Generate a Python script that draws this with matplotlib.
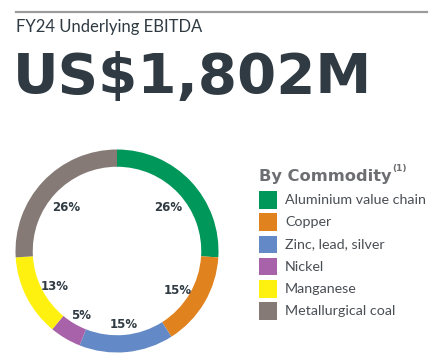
import matplotlib.pyplot as plt
import numpy as np
from matplotlib.lines import Line2D

# data
commodities = ["Aluminium value chain", "Copper", "Zinc, lead, silver",
               "Nickel", "Manganese", "Metallurgical coal"]
shares = [26, 15, 15, 5, 13, 26]
colors = ["#00975a", "#e0821e", "#6389c6", "#a862aa", "#fff10f", "#857a76"]
headline = "US$1,802M"
subtitle = "FY24 Underlying EBITDA"
legend_title = "By Commodity"

W, H = 446, 361
dark = "#2f3a42"

plt.rcParams["font.family"] = ["Lato", "DejaVu Sans"]

fig = plt.figure(figsize=(W / 100, H / 100), dpi=100)
fig.patch.set_facecolor("white")


def fx(px):
    return px / W


def fy(py):
    return 1 - py / H


# top rule
fig.add_artist(Line2D([fx(16), fx(427)], [fy(12), fy(12)],
                      color="#9b9b9b", lw=1.6, transform=fig.transFigure))

fig.text(fx(16), fy(27), subtitle, fontsize=12, color=dark,
         ha="left", va="center")
fig.text(fx(13), fy(78), headline, fontsize=40.5, fontweight="bold",
         family="DejaVu Sans", color=dark, ha="left", va="center")

# donut
R = 101.5
cx, cy = 117, 251
ax = fig.add_axes([fx(cx - R), fy(cy + R), 2 * R / W, 2 * R / H])
wedges, _ = ax.pie(shares, colors=colors, startangle=90, counterclock=False,
                   radius=1, wedgeprops=dict(width=0.17, linewidth=0))
ax.set_xlim(-1, 1)
ax.set_ylim(-1, 1)
ax.set_aspect("equal")
ax.axis("off")

start = 90
for s in shares:
    mid = np.deg2rad(start - s * 3.6 / 2)
    r = 0.69
    ax.text(r * np.cos(mid), r * np.sin(mid) - 0.04, f"{s}%", fontsize=8.5,
            fontweight="bold", family="DejaVu Sans", color=dark,
            ha="center", va="center")
    start -= s * 3.6

# legend (axes in pixel units)
lx0, lx1, ly0, ly1 = 250, 446, 160, 330
lax = fig.add_axes([fx(lx0), fy(ly1), (lx1 - lx0) / W, (ly1 - ly0) / H])
lax.set_xlim(lx0, lx1)
lax.set_ylim(ly1, ly0)
lax.axis("off")
rows = np.arange(len(commodities))
row_y = 200 + 22.2 * rows
sq = 17.5 * 72 / 100
lax.scatter(np.full(len(rows), 268), row_y, marker="s", s=sq ** 2,
            c=colors, linewidths=0)
for yy, name in zip(row_y, commodities):
    lax.text(285, yy, name, fontsize=10.3, color="#4a4f55",
             ha="left", va="center")
lax.text(259, 176, legend_title, fontsize=11.7, fontweight="bold",
         family="DejaVu Sans", color="#6d6e71", ha="left", va="center")
lax.text(392, 169, "(1)", fontsize=6.5, fontweight="bold",
         family="DejaVu Sans", color="#6d6e71", ha="left", va="center")

fig.savefig("out.png", dpi=100)
